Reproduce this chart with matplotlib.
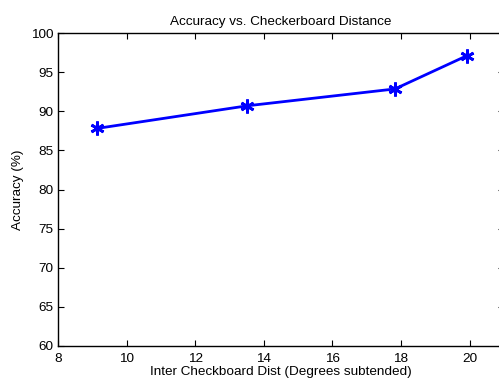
import matplotlib
matplotlib.use('Agg')
import matplotlib.pyplot as plt

plt.rcParams['font.family'] = ['Liberation Sans', 'DejaVu Sans']

dist = [9.13, 13.52, 17.82, 19.92]
accuracy = [87.8, 90.7, 92.85, 97.1]
x_ticks = [8, 10, 12, 14, 16, 18, 20]
y_ticks = [60, 65, 70, 75, 80, 85, 90, 95, 100]

fig = plt.figure(figsize=(4.99, 3.8), dpi=100)
ax = fig.add_axes([58 / 499, 1 - 346 / 380, 446 / 499, 313 / 380])

ax.plot(dist, accuracy, color='#0000ff', linewidth=2, marker=(6, 2, 0),
        markersize=10, markeredgewidth=2, markeredgecolor='#0000ff')

ax.set_xlim(8, 21)
ax.set_ylim(60, 100)
ax.set_xticks(x_ticks)
ax.set_yticks(y_ticks)
ax.tick_params(direction='in', top=True, right=True, labelsize=9.7, length=4, pad=3)
ax.tick_params(axis='x', pad=5)
for s in ax.spines.values():
    s.set_linewidth(1)

ax.set_title('Accuracy vs. Checkerboard Distance', fontsize=9.7, pad=6)
ax.set_xlabel('Inter Checkboard Dist (Degrees subtended)', fontsize=9.7, labelpad=1)
ax.set_ylabel('Accuracy (%)', fontsize=9.7, labelpad=5)

fig.savefig('out.png', dpi=100)
